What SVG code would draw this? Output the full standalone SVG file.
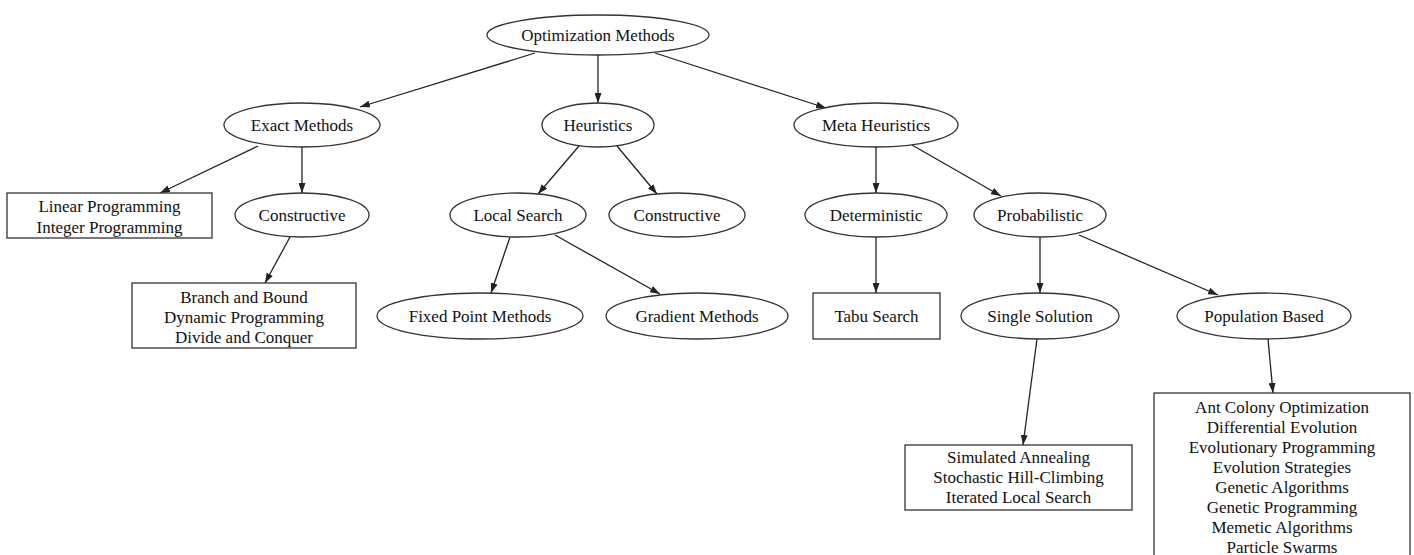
<svg xmlns="http://www.w3.org/2000/svg" width="1414" height="555" viewBox="0 0 1414 555">
<style>
.n ellipse,.n rect{fill:#fff;stroke:#333;stroke-width:1.3}
.n text{font-family:"Liberation Serif","Times New Roman",serif;font-size:17px;fill:#111;text-anchor:middle}
#edges line{stroke:#222;stroke-width:1.3;marker-end:url(#ah)}
</style>
<defs>
<marker id="ah" markerUnits="userSpaceOnUse" markerWidth="10" markerHeight="7" refX="10" refY="3.5" orient="auto">
<path d="M0,0 L10,3.5 L0,7 z" fill="#222"/>
</marker>
</defs>
<rect width="1414" height="555" fill="#fff"/>
<g id="edges">
<line x1="535" y1="53" x2="360" y2="107"/>
<line x1="598" y1="55" x2="598" y2="103"/>
<line x1="655" y1="53" x2="826" y2="108"/>
<line x1="258" y1="146" x2="160" y2="193"/>
<line x1="302" y1="147" x2="302" y2="193"/>
<line x1="290" y1="237" x2="265" y2="283"/>
<line x1="579" y1="146" x2="538" y2="194"/>
<line x1="617" y1="146" x2="657" y2="194"/>
<line x1="510" y1="237" x2="491" y2="293"/>
<line x1="555" y1="235" x2="660" y2="294"/>
<line x1="876" y1="147" x2="876" y2="193"/>
<line x1="912" y1="145" x2="1001" y2="196"/>
<line x1="876" y1="237" x2="876" y2="293"/>
<line x1="1040" y1="237" x2="1040" y2="293"/>
<line x1="1079" y1="235" x2="1218" y2="295"/>
<line x1="1037" y1="339" x2="1023" y2="445"/>
<line x1="1268" y1="339" x2="1273" y2="393"/>
</g>
<g id="opt" class="n"><ellipse cx="598" cy="35" rx="111" ry="20"/><text x="598" y="41">Optimization Methods</text></g>
<g id="exact" class="n"><ellipse cx="302" cy="125" rx="78" ry="22"/><text x="302" y="131">Exact Methods</text></g>
<g id="heur" class="n"><ellipse cx="598" cy="125" rx="56" ry="22"/><text x="598" y="131">Heuristics</text></g>
<g id="meta" class="n"><ellipse cx="876" cy="125" rx="82" ry="22"/><text x="876" y="131">Meta Heuristics</text></g>
<g id="linear" class="n"><rect x="7" y="193" width="205" height="45"/><text x="109.5" y="212">Linear Programming</text><text x="109.5" y="233">Integer Programming</text></g>
<g id="constrL" class="n"><ellipse cx="302" cy="215" rx="67" ry="22"/><text x="302" y="221">Constructive</text></g>
<g id="local" class="n"><ellipse cx="518" cy="215" rx="68" ry="22"/><text x="518" y="221">Local Search</text></g>
<g id="constrM" class="n"><ellipse cx="677" cy="215" rx="68" ry="22"/><text x="677" y="221">Constructive</text></g>
<g id="determ" class="n"><ellipse cx="876" cy="215" rx="71" ry="22"/><text x="876" y="221">Deterministic</text></g>
<g id="prob" class="n"><ellipse cx="1040" cy="215" rx="66" ry="22"/><text x="1040" y="221">Probabilistic</text></g>
<g id="branch" class="n"><rect x="132" y="283" width="224" height="65"/><text x="244" y="303">Branch and Bound</text><text x="244" y="323">Dynamic Programming</text><text x="244" y="343">Divide and Conquer</text></g>
<g id="fixed" class="n"><ellipse cx="480" cy="316" rx="103" ry="23"/><text x="480" y="322">Fixed Point Methods</text></g>
<g id="grad" class="n"><ellipse cx="697" cy="316" rx="91" ry="23"/><text x="697" y="322">Gradient Methods</text></g>
<g id="tabu" class="n"><rect x="813" y="293" width="127" height="46"/><text x="876.5" y="322">Tabu Search</text></g>
<g id="single" class="n"><ellipse cx="1040" cy="316" rx="79" ry="23"/><text x="1040" y="322">Single Solution</text></g>
<g id="pop" class="n"><ellipse cx="1264" cy="316" rx="87" ry="23"/><text x="1264" y="322">Population Based</text></g>
<g id="sim" class="n"><rect x="905" y="445" width="227" height="65"/><text x="1018.5" y="463">Simulated Annealing</text><text x="1018.5" y="483">Stochastic Hill-Climbing</text><text x="1018.5" y="503">Iterated Local Search</text></g>
<g id="ant" class="n"><rect x="1154" y="393" width="256" height="180"/><text x="1282" y="413">Ant Colony Optimization</text><text x="1282" y="433">Differential Evolution</text><text x="1282" y="453">Evolutionary Programming</text><text x="1282" y="473">Evolution Strategies</text><text x="1282" y="493">Genetic Algorithms</text><text x="1282" y="513">Genetic Programming</text><text x="1282" y="533">Memetic Algorithms</text><text x="1282" y="553">Particle Swarms</text></g>
</svg>
